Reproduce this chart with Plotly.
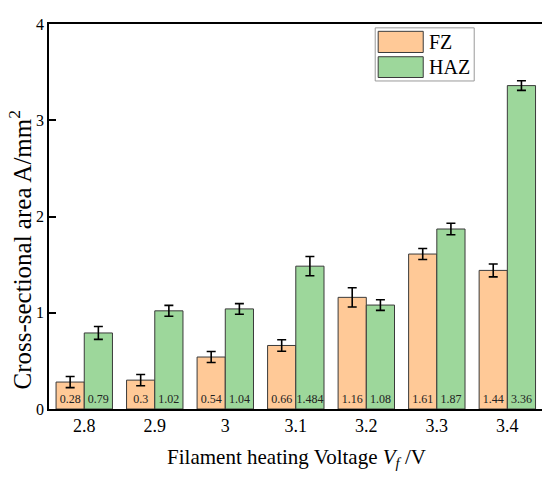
import plotly.graph_objects as go

voltage = ["2.8", "2.9", "3", "3.1", "3.2", "3.3", "3.4"]
fz = [0.28, 0.3, 0.54, 0.66, 1.16, 1.61, 1.44]
fz_err = [0.058, 0.058, 0.057, 0.06, 0.1, 0.057, 0.067]
haz = [0.79, 1.02, 1.04, 1.484, 1.08, 1.87, 3.36]
haz_err = [0.067, 0.057, 0.055, 0.1, 0.055, 0.06, 0.05]
fz_labels = ["0.28", "0.3", "0.54", "0.66", "1.16", "1.61", "1.44"]
haz_labels = ["0.79", "1.02", "1.04", "1.484", "1.08", "1.87", "3.36"]

FONT = "Liberation Serif, Times New Roman, serif"
ORANGE = "#FFC997"
GREEN = "#9DD79B"

fig = go.Figure()

def add_series(name, vals, err, labels, color):
    fig.add_trace(go.Bar(
        x=voltage, y=vals, name=name,
        marker=dict(color=color, line=dict(color="#3a3a3a", width=1)),
        error_y=dict(type="data", array=err, color="black", thickness=1.6, width=4.5),
        text=labels, textposition="inside", insidetextanchor="start",
        textangle=0, constraintext="none",
        textfont=dict(family=FONT, size=12, color="#222"),
        showlegend=False,
    ))

add_series("FZ", fz, fz_err, fz_labels, ORANGE)
add_series("HAZ", haz, haz_err, haz_labels, GREEN)

# legend drawn by hand to get the large swatches
legend_shapes = [
    dict(type="rect", xref="paper", yref="paper", x0=0.659, x1=0.859, y0=0.852, y1=0.99,
         line=dict(color="#999", width=1), fillcolor="white"),
    dict(type="rect", xref="paper", yref="paper", x0=0.665, x1=0.756, y0=0.926, y1=0.981,
         line=dict(color="#3a3a3a", width=1), fillcolor=ORANGE),
    dict(type="rect", xref="paper", yref="paper", x0=0.665, x1=0.756, y0=0.861, y1=0.915,
         line=dict(color="#3a3a3a", width=1), fillcolor=GREEN),
]
texts = [
    dict(text="FZ", xref="paper", yref="paper", x=0.764, y=0.954, xanchor="left",
         yanchor="middle", showarrow=False, font=dict(family=FONT, size=20, color="black")),
    dict(text="HAZ", xref="paper", yref="paper", x=0.764, y=0.888, xanchor="left",
         yanchor="middle", showarrow=False, font=dict(family=FONT, size=20, color="black")),
    # y title placed by hand, it sits below the axis centre in the original
    dict(text="Cross-sectional area A/mm<sup>2</sup>", xref="paper", yref="paper",
         x=-0.058, y=0.415, xanchor="center", yanchor="middle", textangle=-90,
         showarrow=False, font=dict(family=FONT, size=25, color="black")),
]

# page is drawn with an 8px body margin, so margins are shifted by that
fig.update_layout(
    width=550, height=482,
    margin=dict(l=41, r=14, t=8, b=81),
    barmode="group", bargap=0.2, bargroupgap=0,
    plot_bgcolor="white", paper_bgcolor="white",
    font=dict(family=FONT, color="black"),
    shapes=legend_shapes, annotations=texts,
)
fig.update_xaxes(
    type="category", range=[-0.5, 6.52],
    showline=True, linecolor="black", linewidth=1.5, mirror=True,
    ticks="", tickfont=dict(size=18),
    title=dict(text="Filament heating Voltage <i>V<sub>f</sub></i> /V", font=dict(size=21), standoff=14),
)
fig.update_yaxes(
    range=[0, 4], dtick=1,
    showline=True, linecolor="black", linewidth=1.5, mirror=True,
    ticks="inside", ticklen=7, tickwidth=1.5, tickcolor="black",
    showgrid=False, zeroline=False, tickfont=dict(size=16),
)

fig.write_html("out.html")
